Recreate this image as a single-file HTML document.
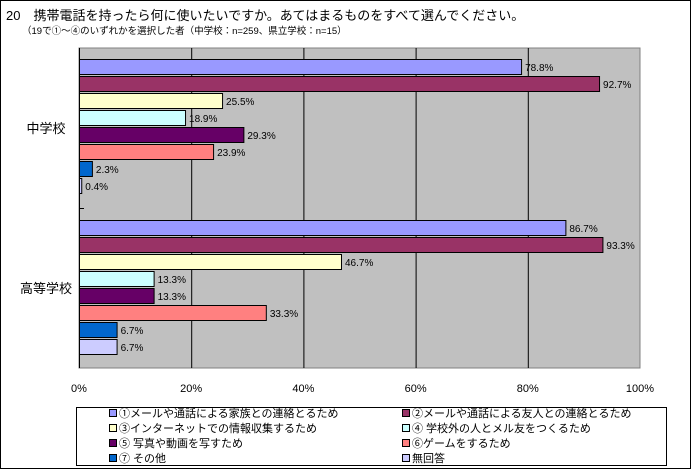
<!DOCTYPE html>
<html><head><meta charset="utf-8">
<style>
body{margin:0;background:#fff;font-family:"Liberation Sans","Noto Sans CJK JP",sans-serif;}
svg text{font-family:"Liberation Sans","Noto Sans CJK JP",sans-serif;}
</style></head>
<body>
<svg width="692" height="470" xmlns="http://www.w3.org/2000/svg">
<rect x="0.5" y="0.5" width="690" height="468" fill="#fff" stroke="#000"/>
<text x="6" y="20" font-size="13">20　携帯電話を持ったら何に使いたいですか。あてはまるものをすべて選んでください。</text>
<text x="22" y="34" font-size="9.5">（19で①～④のいずれかを選択した者（中学校：n=259、県立学校：n=15）</text>
<g id="plot"></g>
<rect x="76.5" y="407.5" width="590" height="58" fill="#fff" stroke="#000"/>
<g id="legend"></g>
</svg>
<script>
const categories=["中学校","高等学校"];
const seriesNames=["①メールや通話による家族との連絡とるため","②メールや通話による友人との連絡とるため","③インターネットでの情報収集するため","④ 学校外の人とメル友をつくるため","⑤ 写真や動画を写すため","⑥ゲームをするため","⑦ その他","無回答"];
const colors=["#9999ff","#993366","#ffffcc","#ccffff","#660066","#ff8080","#0066cc","#ccccff"];
const middleValues=[78.8,92.7,25.5,18.9,29.3,23.9,2.3,0.4];
const highValues=[86.7,93.3,46.7,13.3,13.3,33.3,6.7,6.7];
const tickLabels=["0%","20%","40%","60%","80%","100%"];
const tickValues=[0,20,40,60,80,100];
const NS="http://www.w3.org/2000/svg";
const X0=79,X1=640,Y0=48,Y1=368;
const xs=v=>X0+(X1-X0)*v/100;
const band=(Y1-Y0)/categories.length;
const plot=document.getElementById('plot');
function mk(t,a,p){const e=document.createElementNS(NS,t);for(const k in a)e.setAttribute(k,a[k]);(p||plot).appendChild(e);return e;}
const bg=mk('rect',{x:X0,y:Y0,width:X1-X0,height:Y1-Y0,fill:'#c0c0c0',stroke:'#808080'});


tickValues.forEach((v,i)=>{
  if(v>0&&v<100){const g=mk('line',{x1:xs(v)+0.5,x2:xs(v)+0.5,y1:Y0,y2:Y1,stroke:'#000'});
  
  }
  const t=mk('text',{x:xs(v),y:392,'font-size':11,'text-anchor':'middle'});
  t.textContent=tickLabels[i];
  
  
});
mk('line',{x1:X0+0.5,x2:X0+0.5,y1:Y0,y2:Y1,stroke:'#000'});
mk('line',{x1:X0,x2:X0+5,y1:Y0+band+0.5,y2:Y0+band+0.5,stroke:'#000'});
[middleValues,highValues].forEach((vals,ci)=>{
  const top=Y0+ci*band+11+ci*1;
  const lab=mk('text',{x:46,y:Y0+ci*band+band/2+5,'font-size':13,'text-anchor':'middle'});
  lab.textContent=categories[ci];
  
  
  vals.forEach((v,si)=>{
    const y=top+si*17;
    const r=mk('rect',{x:X0+0.5,y:y+0.5,width:Math.max(xs(v)-X0,0.5),height:15,fill:colors[si],stroke:'#000'});
    
    
    const t=mk('text',{x:xs(v)+4,y:y+12,'font-size':10});
    t.textContent=v.toFixed(1)+'%';
    
    
  });
});
const lg=document.getElementById('legend');
seriesNames.forEach((n,i)=>{
  const col=i%2,row=Math.floor(i/2);
  const x=col?402:109,y=413+row*15;
  const s=mk('rect',{x:x+0.5,y:y-3.5,width:7,height:7,fill:colors[i],stroke:'#000'},lg);
  
  
  const t=mk('text',{x:x+10,y:y+4,'font-size':11},lg);
  t.textContent=n;
  
  
});
</script>
</body></html>
